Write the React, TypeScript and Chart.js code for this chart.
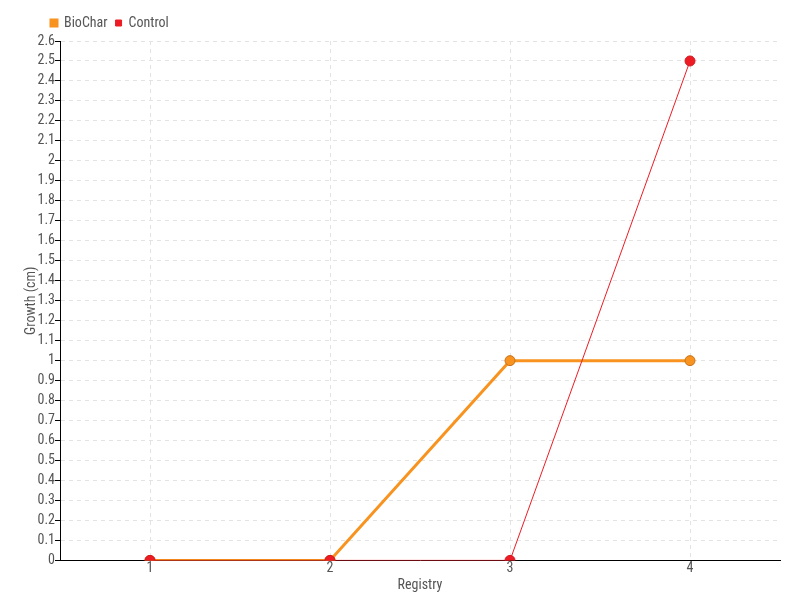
import React, { useEffect, useRef } from "react";
import { Chart, registerables } from "chart.js";

Chart.register(...registerables);

const categories = ["1", "2", "3", "4"];
const bioChar = [0, 0, 1, 1];
const control = [0, 0, 0, 2.5];
const yMin = 0;
const yMax = 2.6;
const yStep = 0.1;

const FONT = "'Roboto Condensed', 'Roboto', sans-serif";

const shiftLegend = {
  id: "shiftLegend",
  afterLayout(chart: any) {
    const lg = chart.legend;
    if (lg) {
      lg.left += 20;
      lg.right += 20;
      lg.top -= 1;
      lg.bottom -= 1;
    }
  },
};

export default function App() {
  const ref = useRef<HTMLCanvasElement>(null);
  useEffect(() => {
    document.body.style.margin = "0";
    const ctx = ref.current!;
    const chart = new Chart(ctx, {
      type: "line",
      plugins: [shiftLegend],
      data: {
        labels: categories,
        datasets: [
          {
            label: "Control",
            data: control,
            borderColor: "#ed1c24",
            backgroundColor: "#ed1c24",
            borderWidth: 1,
            pointRadius: 5,
            pointBackgroundColor: "#ed1c24",
            pointBorderColor: "#d41920",
            pointBorderWidth: 1,
            order: 1,
          },
          {
            label: "BioChar",
            data: bioChar,
            borderColor: "#f7931e",
            backgroundColor: "#f7931e",
            borderWidth: 3,
            pointRadius: 5,
            pointBackgroundColor: "#f7931e",
            pointBorderColor: "#c8721a",
            pointBorderWidth: 1,
            order: 2,
          },
        ],
      },
      options: {
        animation: false,
        responsive: false,
        layout: { padding: { top: 9, right: 20, left: 23, bottom: 6 } },
        plugins: {
          legend: {
            position: "top",
            align: "start",
            reverse: true,
            labels: {
              boxWidth: 6,
              boxHeight: 6,
              padding: 8,
              color: "#555",
              font: { family: FONT, size: 14 },
              usePointStyle: false,
            },
          },
          tooltip: { enabled: false },
        },
        scales: {
          x: {
            type: "category",
            offset: true,
            grid: {
              color: "#e3e3e3",
              drawTicks: false,
              offset: false,
            } as any,
            border: { color: "#000", width: 1, dash: [4, 4] } as any,
            ticks: { color: "#555", font: { family: FONT, size: 14 }, padding: 0 },
            title: {
              display: true,
              text: "Registry",
              color: "#555",
              font: { family: FONT, size: 14 },
              padding: { top: 0, bottom: 0 },
            },
          },
          y: {
            min: yMin,
            max: yMax,
            afterFit: (scale: any) => {
              scale.width = 37;
            },
            grid: {
              color: "#e3e3e3",
              tickColor: "#000",
              tickLength: 5,
              tickBorderDash: [],
            } as any,
            border: { color: "#000", width: 1, dash: [4, 4] } as any,
            ticks: {
              stepSize: yStep,
              color: "#555",
              font: { family: FONT, size: 14 },
              padding: 0,
              autoSkip: false,
              callback: (v: any) => String(Math.round(Number(v) * 10) / 10),
            },
            title: {
              display: true,
              text: "Growth (cm)",
              color: "#555",
              font: { family: FONT, size: 14 },
              padding: { top: 0, bottom: 0 },
            },
          },
        },
      },
    });
    return () => chart.destroy();
  }, []);
  return (
    <div style={{ width: 800, height: 600 }}>
      <canvas ref={ref} width={800} height={600} />
    </div>
  );
}
